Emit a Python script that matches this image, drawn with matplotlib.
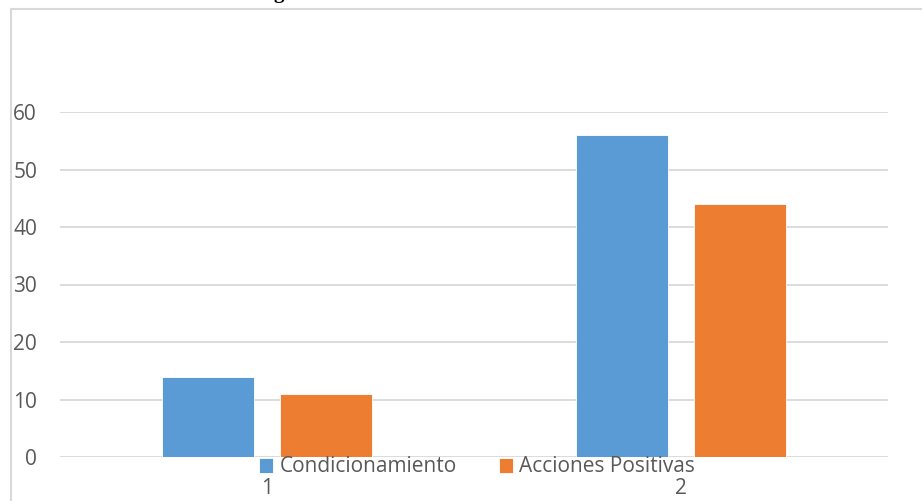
import matplotlib
matplotlib.use("Agg")
import matplotlib.pyplot as plt
import numpy as np
from matplotlib.lines import Line2D

categories = ["1", "2"]
series_names = ["Condicionamiento", "Acciones Positivas"]
condicionamiento = [14, 56]
acciones_positivas = [11, 44]
yticks = [0, 10, 20, 30, 40, 50, 60]

colors = ["#5B9BD5", "#ED7D31"]
W, H = 922, 501
fig = plt.figure(figsize=(W / 100, H / 100), dpi=100)

# chart frame (left and top borders visible)
fig.add_artist(Line2D([10.5 / W, 10.5 / W], [0, 1 - 8.5 / H], color="#D9D9D9", lw=1.5))
fig.add_artist(Line2D([10.5 / W, 1], [1 - 8.5 / H, 1 - 8.5 / H], color="#D9D9D9", lw=1.5))

# clipped caption glyph at top
fig.text(273 / W, 1 + 2 / H, "g", fontsize=15, fontweight="bold",
         family="Liberation Serif", va="baseline", ha="left", color="black")

ax = fig.add_axes([60 / W, 1 - 457 / H, 828 / W, 345 / H])
x = np.arange(1, len(categories) + 1)
bw = 0.222
off = 0.1425
ax.bar(x - off, condicionamiento, width=bw, color=colors[0], edgecolor="white", linewidth=0.6,
       label=series_names[0], zorder=3)
ax.bar(x + off, acciones_positivas, width=bw, color=colors[1], edgecolor="white", linewidth=0.6,
       label=series_names[1], zorder=3)

ax.set_xlim(0.5, 2.5)
ax.set_ylim(0, 60)
ax.set_yticks(yticks)
ax.set_xticks(x)
ax.set_xticklabels(categories)
ax.grid(axis="y", color="#D9D9D9", lw=1.3, zorder=0)
ax.set_axisbelow(True)
for s in ax.spines.values():
    s.set_visible(False)
ax.tick_params(length=0, labelsize=15, labelcolor="#595959")
for lab in ax.get_yticklabels() + ax.get_xticklabels():
    lab.set_fontfamily("Open Sans")
ax.tick_params(axis="y", pad=16.5)
ax.tick_params(axis="x", pad=15)

leg = ax.legend(loc="center", bbox_to_anchor=(477 / W, 1 - 467 / H), bbox_transform=fig.transFigure,
                ncol=2, frameon=False, prop={"family": "Open Sans", "size": 15},
                handlelength=0.7, handleheight=0.7, handletextpad=0.3, columnspacing=2.0,
                borderpad=0, borderaxespad=0)
for t in leg.get_texts():
    t.set_color("#595959")

fig.savefig("out.png", dpi=100)
